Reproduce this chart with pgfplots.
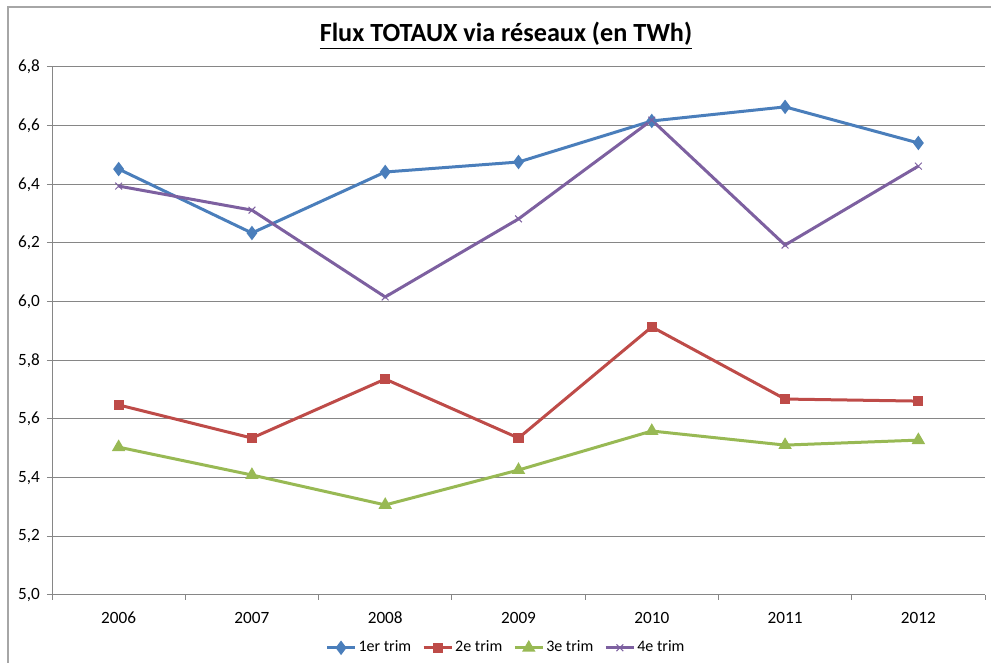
\documentclass[border=0pt]{standalone}
\usepackage{pgfplots}
\pgfplotsset{compat=1.18}
\usepackage{fontspec}
\setmainfont{Carlito}
\definecolor{s1}{HTML}{4A7EBB}
\definecolor{s2}{HTML}{BE4B48}
\definecolor{s3}{HTML}{98B954}
\definecolor{s4}{HTML}{7D60A0}
\definecolor{gridc}{HTML}{868686}
\definecolor{borderc}{HTML}{A6A6A6}
\begin{document}
\begin{tikzpicture}
\useasboundingbox (0,0) rectangle (495.5pt,331.5pt);
\draw[borderc, line width=1pt] (4pt,-2pt) -- (4pt,328pt) -- (500pt,328pt);
\node[font=\fontsize{13.1}{15}\selectfont\bfseries] at (253pt,313.5pt) {\underline{Flux TOTAUX via réseaux (en TWh)}};
\begin{axis}[
  scale only axis,
  anchor=south west,
  at={(26pt,34pt)},
  width=466.5pt, height=264pt,
  xmin=-0.5, xmax=6.5,
  ymin=5.0, ymax=6.8,
  ytick={5.0,5.2,...,6.81},
  xtick={0,1,2,3,4,5,6},
  xticklabels={2006,2007,2008,2009,2010,2011,2012},
  minor xtick={-0.5,0.5,...,6.6},
  x tick style={draw=none},
  minor x tick style={draw=gridc, line width=0.5pt},
  y tick style={draw=gridc, line width=0.5pt},
  major tick length=2.5pt, minor tick length=2.5pt,
  tick align=outside,
  ymajorgrids,
  major grid style={gridc, line width=0.5pt},
  axis x line*=bottom, axis y line*=left,
  axis line style={gridc, line width=0.5pt, -},
  ticklabel style={font=\fontsize{8.6}{10}\selectfont, text=black},
  xticklabel style={yshift=-2.5pt},
  /pgf/number format/.cd, use comma, fixed, fixed zerofill, precision=1, assume math mode=true,
  /pgfplots/.cd,
  clip=false,
  every axis plot/.append style={line width=1.5pt},
  legend style={at={(0.4866,-0.1)}, anchor=center, draw=none, legend columns=4,
    font=\fontsize{8}{9}\selectfont, inner sep=1pt, nodes={inner sep=1pt},
    /tikz/every even column/.append style={column sep=4.5pt}},
  legend image code/.code={\draw[mark repeat=2,mark phase=2,#1] plot coordinates {(0pt,0pt) (7pt,0pt) (14pt,0pt)};},
]
\addplot[s1, mark=diamond*, mark size=2.4pt, mark options={solid}] coordinates {
(0,6.452) (1,6.234) (2,6.442) (3,6.476) (4,6.616) (5,6.664) (6,6.541)};
\addlegendentry{1er trim}
\addplot[s2, mark=square*, mark size=1.8pt] coordinates {
(0,5.648) (1,5.535) (2,5.736) (3,5.535) (4,5.914) (5,5.668) (6,5.661)};
\addlegendentry{2e trim}
\addplot[s3, mark=triangle*, mark size=2.4pt] coordinates {
(0,5.504) (1,5.409) (2,5.307) (3,5.426) (4,5.559) (5,5.511) (6,5.528)};
\addlegendentry{3e trim}
\addplot[s4, mark=x, mark size=2.4pt, mark options={line width=0.5pt}] coordinates {
(0,6.394) (1,6.312) (2,6.016) (3,6.282) (4,6.619) (5,6.193) (6,6.462)};
\addlegendentry{4e trim}
\end{axis}
\end{tikzpicture}
\end{document}
